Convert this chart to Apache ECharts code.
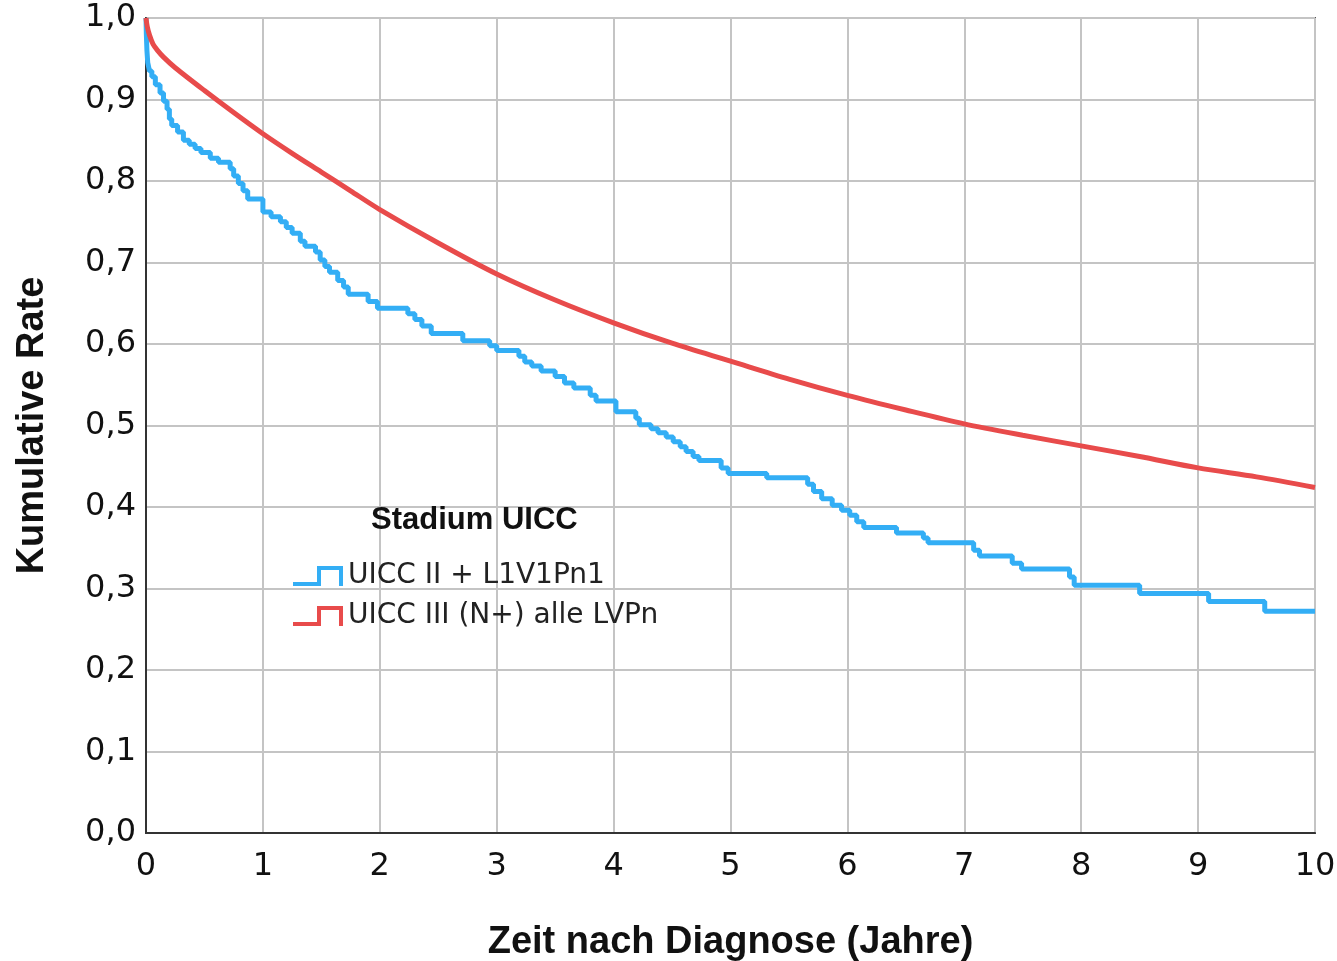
<!DOCTYPE html>
<html>
<head>
<meta charset="utf-8">
<script src="https://cdn.jsdelivr.net/npm/echarts@6/dist/echarts.min.js"></script>
<style>
  html, body { margin: 0; padding: 0; background: #ffffff; }
  #chart { width: 1337px; height: 961px; }
</style>
</head>
<body>
<div id="chart"></div>
<script>
// Kaplan-Meier style cumulative rates by UICC stage
const legendTitle = 'Stadium UICC';
const seriesNames = ['UICC II + L1V1Pn1', 'UICC III (N+) alle LVPn'];
const xAxisTitle = 'Zeit nach Diagnose (Jahre)';
const yAxisTitle = 'Kumulative Rate';
const xTickLabels = ['0', '1', '2', '3', '4', '5', '6', '7', '8', '9', '10'];
const yTickLabels = ['0,0', '0,1', '0,2', '0,3', '0,4', '0,5', '0,6', '0,7', '0,8', '0,9', '1,0'];

// UICC II + L1V1Pn1: [years, cumulative rate after each event]
const uicc2Steps = [
  [0, 1.0], [0.003, 0.98], [0.008, 0.96], [0.015, 0.945], [0.03, 0.935], [0.05, 0.928],
  [0.08, 0.918], [0.12, 0.908], [0.15, 0.898], [0.18, 0.888], [0.2, 0.876],
  [0.22, 0.868], [0.27, 0.86], [0.32, 0.85], [0.37, 0.845], [0.42, 0.84],
  [0.47, 0.835], [0.55, 0.828], [0.62, 0.823], [0.72, 0.815], [0.75, 0.806],
  [0.79, 0.797], [0.83, 0.788], [0.87, 0.778], [1.0, 0.762], [1.07, 0.756],
  [1.15, 0.75], [1.2, 0.743], [1.25, 0.736], [1.32, 0.726], [1.36, 0.72],
  [1.45, 0.713], [1.49, 0.703], [1.53, 0.695], [1.57, 0.688], [1.64, 0.678],
  [1.69, 0.67], [1.73, 0.661], [1.9, 0.652], [1.98, 0.644], [2.24, 0.637],
  [2.3, 0.63], [2.36, 0.622], [2.44, 0.613], [2.71, 0.604], [2.94, 0.598],
  [3.0, 0.592], [3.19, 0.585], [3.24, 0.578], [3.3, 0.573], [3.38, 0.567],
  [3.5, 0.56], [3.58, 0.552], [3.66, 0.546], [3.8, 0.537], [3.85, 0.53],
  [4.02, 0.517], [4.19, 0.509], [4.22, 0.501], [4.32, 0.496], [4.38, 0.491],
  [4.45, 0.486], [4.51, 0.48], [4.57, 0.474], [4.62, 0.468], [4.68, 0.462],
  [4.73, 0.457], [4.92, 0.448], [4.98, 0.441], [5.31, 0.436], [5.66, 0.428],
  [5.71, 0.419], [5.78, 0.41], [5.87, 0.402], [5.95, 0.396], [6.02, 0.39],
  [6.08, 0.382], [6.14, 0.375], [6.42, 0.368], [6.65, 0.362], [6.69, 0.356],
  [7.08, 0.347], [7.13, 0.34], [7.41, 0.331], [7.49, 0.324], [7.9, 0.314],
  [7.94, 0.304], [8.5, 0.294], [9.09, 0.284], [9.57, 0.272], [10.0, 0.272]
];

// UICC III (N+) alle LVPn: many small steps, read as a fine curve
const uicc3Curve = [
  [0, 1.0], [0.01, 0.99], [0.03, 0.979], [0.06, 0.968], [0.1, 0.96],
  [0.15, 0.952], [0.25, 0.939], [0.5, 0.911], [0.75, 0.884], [1.0, 0.858],
  [1.25, 0.834], [1.5, 0.811], [1.75, 0.788], [2.0, 0.765], [2.5, 0.724],
  [3.0, 0.686], [3.5, 0.654], [4.0, 0.626], [4.5, 0.601], [5.0, 0.579],
  [5.5, 0.557], [6.0, 0.537], [6.5, 0.519], [7.0, 0.502], [7.5, 0.488],
  [8.0, 0.475], [8.5, 0.462], [9.0, 0.448], [9.5, 0.437], [10.0, 0.424]
];

const colors = ['#33aef5', '#e84b4b'];
const stepIcon = 'path://M0 16 H24 V0 H50 V20 H46 V4 H28 V20 H0 Z';

const chart = echarts.init(document.getElementById('chart'), null, { renderer: 'canvas' });

chart.setOption({
  backgroundColor: '#ffffff',
  animation: false,
  color: colors,
  title: {
    text: legendTitle,
    left: 371,
    top: 505,
    textStyle: { fontFamily: 'Liberation Sans', fontWeight: 'bold', fontSize: 31, color: '#111' },
    padding: 0
  },
  legend: {
    orient: 'vertical',
    left: 293,
    top: 561,
    itemWidth: 50,
    itemHeight: 20,
    itemGap: 10,
    padding: 0,
    data: seriesNames.map(n => ({ name: n, icon: stepIcon })),
    textStyle: { fontFamily: 'DejaVu Sans', fontSize: 28, color: '#222', lineHeight: 30 }
  },
  grid: {
    left: 146, right: 22, top: 18, bottom: 128,
    containLabel: false, outerBoundsMode: 'none',
    show: true, borderColor: '#555', borderWidth: 2, backgroundColor: 'transparent'
  },
  xAxis: {
    type: 'value', min: 0, max: 10, interval: 1,
    name: xAxisTitle, nameLocation: 'middle', nameGap: 91,
    nameTextStyle: { fontFamily: 'Liberation Sans', fontWeight: 'bold', fontSize: 38, color: '#111' },
    axisLine: { show: true, lineStyle: { color: '#333', width: 2 } },
    axisTick: { show: false },
    splitLine: { show: true, lineStyle: { color: '#c4c4c4', width: 2 } },
    axisLabel: {
      margin: 18, fontFamily: 'DejaVu Sans', fontSize: 32, color: '#111',
      formatter: v => xTickLabels[Math.round(v)]
    }
  },
  yAxis: {
    type: 'value', min: 0, max: 1, interval: 0.1,
    name: yAxisTitle, nameLocation: 'middle', nameGap: 94, nameRotate: 90,
    nameTextStyle: { fontFamily: 'Liberation Sans', fontWeight: 'bold', fontSize: 38, color: '#111' },
    axisLine: { show: true, lineStyle: { color: '#333', width: 2 } },
    axisTick: { show: false },
    splitLine: { show: true, lineStyle: { color: '#c4c4c4', width: 2 } },
    axisLabel: {
      margin: 10, fontFamily: 'DejaVu Sans', fontSize: 32, color: '#111',
      formatter: v => yTickLabels[Math.round(v * 10)]
    }
  },
  series: [
    {
      name: seriesNames[0], type: 'line', step: 'end', data: uicc2Steps,
      showSymbol: false, lineStyle: { width: 5, color: colors[0] }, z: 3
    },
    {
      name: seriesNames[1], type: 'line', data: uicc3Curve, smooth: 0.3,
      showSymbol: false, lineStyle: { width: 5, color: colors[1] }, z: 4
    }
  ]
});
</script>
</body>
</html>
